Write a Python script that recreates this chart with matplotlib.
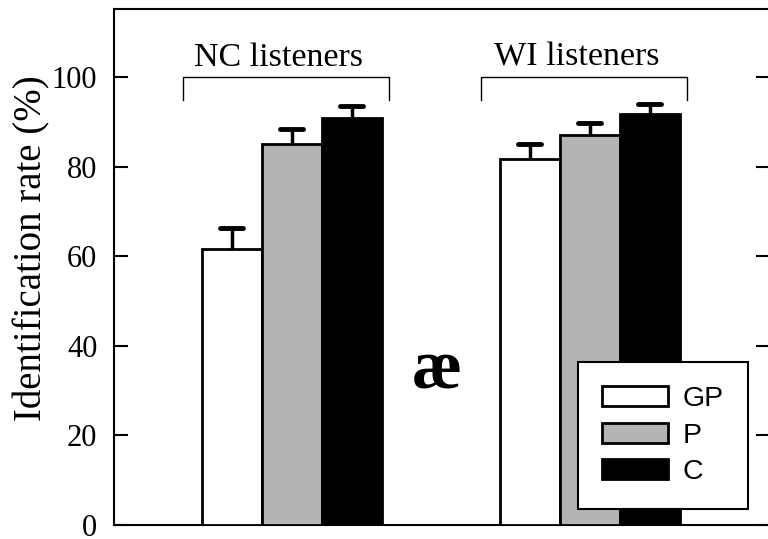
import matplotlib
matplotlib.use("Agg")
import matplotlib.pyplot as plt
from matplotlib.patches import Patch
import numpy as np

groups = ["NC listeners", "WI listeners"]
conditions = ["GP", "P", "C"]
means = {
    "GP": [61.7, 81.7],
    "P": [85.2, 87.1],
    "C": [91.0, 91.8],
}
errors = {
    "GP": [4.6, 3.4],
    "P": [3.2, 2.8],
    "C": [2.7, 2.3],
}
colors = {"GP": "white", "P": "#b4b4b4", "C": "black"}
yticks = [0, 20, 40, 60, 80, 100]

W, H = 768, 539
fig = plt.figure(figsize=(W / 100, H / 100), dpi=100)
ax = fig.add_axes([114 / W, (H - 525) / H, (769.5 - 114) / W, (525 - 9) / H])

serif = "Liberation Serif"
sans = "Liberation Sans"

x = np.arange(len(groups))
bw = 60 / 298
capw = 11.5 / 298
for i, c in enumerate(conditions):
    pos = x + (i - 1) * bw
    m = np.array(means[c])
    e = np.array(errors[c])
    ax.bar(pos, m, width=bw, color=colors[c], edgecolor="black",
           linewidth=2.0, zorder=3, label=c)
    ax.vlines(pos, m, m + e, color="black", linewidth=2.5, zorder=2)
    ax.hlines(m + e, pos - capw, pos + capw, color="black", linewidth=3.5,
              zorder=2, capstyle="round")

ax.set_xlim(-0.597, -0.597 + 655.5 / 298)
ax.set_ylim(0, 115.3)
ax.set_yticks(yticks)
ax.set_yticklabels([str(t) for t in yticks], fontfamily=serif, fontsize=22)
ax.tick_params(axis="y", direction="in", length=10, width=1.5, pad=12,
               right=True)
ax.tick_params(axis="x", bottom=False, labelbottom=False)
for s in ax.spines.values():
    s.set_linewidth(1.5)

# group brackets
for gi, g in enumerate(groups):
    x0 = x[gi] - 0.364
    x1 = x[gi] + 0.327
    ax.plot([x0, x0, x1, x1], [95.0, 100.1, 100.1, 95.0], color="black",
            linewidth=1.0, zorder=4, clip_on=False)
    ax.text((x0 + x1) / 2 - 0.025, 102.6, g, ha="center", va="baseline",
            fontfamily=serif, fontsize=24.5)

# vowel label
ax.text(-0.597 + (437 - 114) / 298, (524.5 - 370) / 4.47, "æ",
        ha="center", va="center", fontfamily=serif, fontweight="bold",
        fontsize=50)

fig.text(32 / W, 1 - 248 / H, "Identification rate (%)", rotation=90,
         ha="center", va="center", fontfamily=serif, fontsize=28)

handles = [Patch(facecolor=colors[c], edgecolor="black", linewidth=2.0)
           for c in conditions]
leg = ax.legend(handles, conditions, loc="upper left",
                bbox_to_anchor=((578 - 114) / 655.5, (525 - 362) / 516),
                prop={"family": sans, "size": 20.5},
                frameon=True, fancybox=False, edgecolor="black",
                framealpha=1, borderpad=0.85, borderaxespad=0,
                handlelength=2.3, handleheight=0.7, handletextpad=0.52,
                labelspacing=0.37)
leg.get_frame().set_linewidth(1.5)
leg.set_zorder(5)

fig.savefig("out.png", dpi=100)
